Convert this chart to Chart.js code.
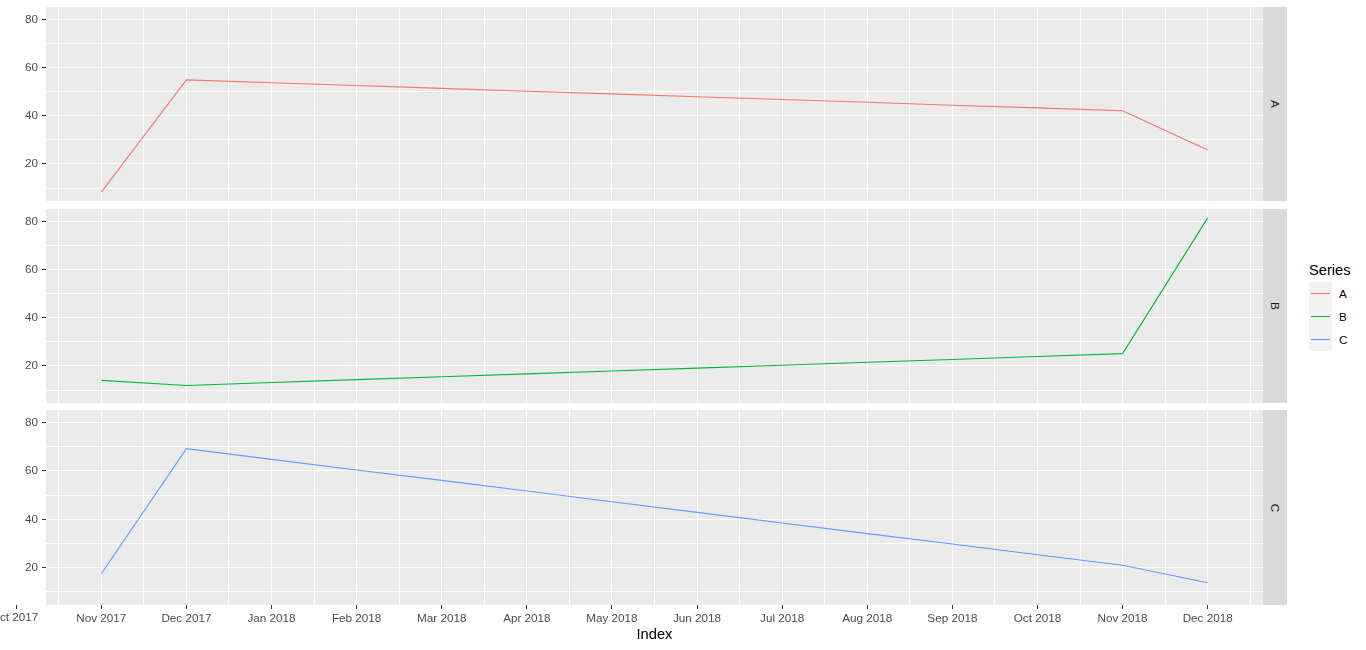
<!DOCTYPE html>
<html>
<head>
<meta charset="utf-8">
<script src="https://cdn.jsdelivr.net/npm/chart.js@4/dist/chart.umd.min.js"></script>
<style>
  body { margin: 0; background: #fff; width: 1366px; height: 650px; overflow: hidden; position: relative; font-family: "Liberation Sans", Arial, sans-serif; }
  canvas { position: absolute; left: 0; }
  .strip { position: absolute; left: 1263px; width: 24px; background: #D9D9D9; }
  .strip span { position: absolute; left: 50%; top: 50%; transform: translate(-50%, -50%) rotate(90deg); font-size: 11.7px; color: #1A1A1A; line-height: 1; }
  #xtitle { position: absolute; left: 46px; width: 1217px; top: 626px; text-align: center; font-size: 14.7px; color: #000; line-height: 17px; }
  #legend { position: absolute; left: 1309px; top: 262px; }
  #legend .title { font-size: 14.7px; color: #000; line-height: 17px; height: 20px; }
  #legend .key { position: relative; width: 40px; height: 23px; }
  #legend svg { position: absolute; left: 0; top: 0; }
  #legend .lab { position: absolute; left: 30px; top: 0; line-height: 23px; font-size: 11.7px; color: #000; }
</style>
</head>
<body>
<canvas id="panelA" width="1263" height="194" style="top:7px"></canvas>
<canvas id="panelB" width="1263" height="194" style="top:209px"></canvas>
<canvas id="panelC" width="1263" height="240" style="top:410px"></canvas>
<div class="strip" style="top:7px;height:194px"><span>A</span></div>
<div class="strip" style="top:209px;height:194px"><span>B</span></div>
<div class="strip" style="top:410px;height:195px"><span>C</span></div>
<div id="xtitle">Index</div>
<div id="legend"></div>

<script>
// x tick labels (index = position on the month axis)
const xTickLabels = ['Oct 2017', 'Nov 2017', 'Dec 2017', 'Jan 2018', 'Feb 2018', 'Mar 2018', 'Apr 2018',
  'May 2018', 'Jun 2018', 'Jul 2018', 'Aug 2018', 'Sep 2018', 'Oct 2018', 'Nov 2018', 'Dec 2018'];
// months that carry data
const months = xTickLabels.slice(1);

const seriesNames = ['A', 'B', 'C'];
const seriesA = [8.3, 54.9, 53.7, 52.6, 51.4, 50.2, 49.1, 47.9, 46.8, 45.6, 44.4, 43.3, 42.1, 25.8];
const seriesB = [14.0, 11.9, 13.1, 14.3, 15.5, 16.7, 17.9, 19.1, 20.3, 21.5, 22.7, 23.9, 25.1, 81.5];
const seriesC = [17.5, 69.2, 64.8, 60.4, 56.1, 51.7, 47.3, 42.9, 38.5, 34.1, 29.8, 25.4, 21.0, 13.8];
const seriesColors = ['#F8766D', '#00BA38', '#619CFF'];

const yMajor = [20, 40, 60, 80];
const yMinor = [10, 30, 50, 70];

const X_MIN = 0.35, X_MAX = 14.65;
const Y_MIN = 4.6, Y_MAX = 85.2;

const tickFont = { family: 'Liberation Sans', size: 11.7 };

// grey panel background
const panelBg = {
  id: 'panelBg',
  beforeDraw(chart) {
    const { ctx, chartArea: a } = chart;
    ctx.save();
    ctx.fillStyle = '#EBEBEB';
    ctx.fillRect(a.left, a.top, a.width, a.height);
    ctx.restore();
  }
};

// month ticks that fall left of the panel (ggplot still prints them)
const outsideTicks = {
  id: 'outsideTicks',
  afterDraw(chart) {
    const xs = chart.scales.x;
    const { ctx, chartArea: a } = chart;
    ctx.save();
    xTickLabels.forEach((lab, i) => {
      if (i >= X_MIN && i <= X_MAX) return;
      const px = Math.round(xs.getPixelForValue(i)) + 0.5;
      ctx.strokeStyle = '#333333';
      ctx.lineWidth = 1;
      ctx.beginPath();
      ctx.moveTo(px, a.bottom);
      ctx.lineTo(px, a.bottom + 4);
      ctx.stroke();
      ctx.fillStyle = '#4D4D4D';
      ctx.font = '11.7px "Liberation Sans"';
      ctx.textAlign = 'center';
      ctx.textBaseline = 'top';
      ctx.fillText(lab, px - 2, a.bottom + 7);
    });
    ctx.restore();
  }
};

function makePanel(id, values, color, showX) {
  const data = values.map((v, i) => ({ x: xTickLabels.indexOf(months[i]), y: v }));
  const plugins = [panelBg];
  if (showX) plugins.push(outsideTicks);

  return new Chart(document.getElementById(id), {
    type: 'line',
    data: {
      datasets: [{
        data: data,
        borderColor: color,
        borderWidth: 1.1,
        pointRadius: 0,
        tension: 0,
        fill: false
      }]
    },
    plugins: plugins,
    options: {
      responsive: false,
      animation: false,
      devicePixelRatio: 1,
      layout: { padding: 0, autoPadding: false },
      plugins: { legend: { display: false }, tooltip: { enabled: false } },
      scales: {
        x: {
          type: 'linear',
          min: X_MIN,
          max: X_MAX,
          afterBuildTicks: s => {
            const t = [];
            for (let v = 0; v <= xTickLabels.length; v += 0.5) {
              if (v > X_MIN && v < X_MAX) t.push({ value: v });
            }
            s.ticks = t;
          },
          ticks: {
            display: showX,
            autoSkip: false,
            maxRotation: 0,
            padding: 3,
            color: '#4D4D4D',
            font: tickFont,
            callback: v => Number.isInteger(v) ? xTickLabels[v] : ''
          },
          grid: {
            color: '#FFFFFF',
            lineWidth: 1,
            drawTicks: showX,
            tickLength: 4,
            tickWidth: 1,
            tickColor: ctx => (ctx.tick && Number.isInteger(ctx.tick.value)) ? '#333333' : 'rgba(0,0,0,0)'
          },
          border: { display: false },
          afterFit: s => {
            s.height = showX ? 240 - 195 : 0;
            s.paddingLeft = 0; s.paddingRight = 0;
          }
        },
        y: {
          min: Y_MIN,
          max: Y_MAX,
          afterBuildTicks: s => {
            s.ticks = yMinor.concat(yMajor).sort((a, b) => a - b).map(v => ({ value: v }));
          },
          ticks: {
            padding: 4,
            color: '#4D4D4D',
            font: tickFont,
            callback: v => yMajor.includes(v) ? String(v) : ''
          },
          grid: {
            color: '#FFFFFF',
            lineWidth: 1,
            tickLength: 4,
            tickWidth: 1,
            tickColor: ctx => (ctx.tick && yMajor.includes(ctx.tick.value)) ? '#333333' : 'rgba(0,0,0,0)'
          },
          border: { display: false },
          afterFit: s => {
            s.width = 46;
            s.paddingTop = 0; s.paddingBottom = 0;
          }
        }
      }
    }
  });
}

makePanel('panelA', seriesA, seriesColors[0], false);
makePanel('panelB', seriesB, seriesColors[1], false);
makePanel('panelC', seriesC, seriesColors[2], true);

// legend
const legend = document.getElementById('legend');
let html = '<div class="title">Series</div>';
seriesNames.forEach((name, i) => {
  html += `
    <div class="key">
      <svg width="23" height="23"><rect x="0" y="0" width="23" height="23" fill="#F2F2F2"/>
        <line x1="2" y1="11.5" x2="21" y2="11.5" stroke="${seriesColors[i]}" stroke-width="1.1"/></svg>
      <div class="lab">${name}</div>
    </div>`;
});
legend.innerHTML = html;
</script>
</body>
</html>
